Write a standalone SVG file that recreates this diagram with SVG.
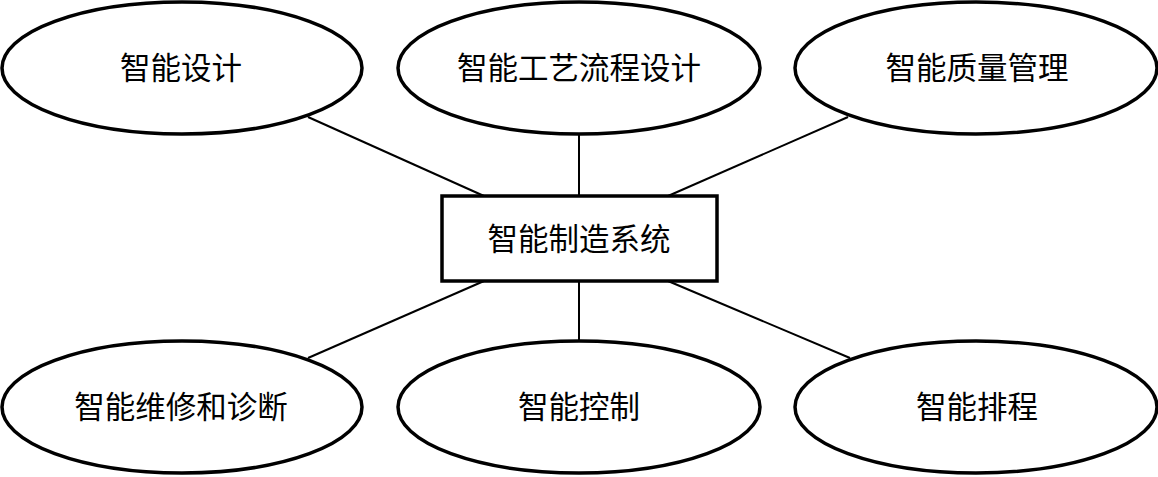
<svg xmlns="http://www.w3.org/2000/svg" width="1158" height="477" viewBox="0 0 1158 477">
<style>
.node{fill:#fff;stroke:#000;stroke-width:3.5}
.box{fill:#fff;stroke:#000;stroke-width:3.5}
.lbl{font-family:"Noto Sans CJK SC","Liberation Serif",serif;font-size:30.5px;fill:#000;text-anchor:middle;dominant-baseline:central}
.conn line{stroke:#000;stroke-width:2}
</style>
<rect width="1158" height="477" fill="#fff"/>
<g id="connectors" class="conn">
<line x1="308" y1="117" x2="484" y2="196"/>
<line x1="579" y1="134" x2="579" y2="196"/>
<line x1="848" y1="117" x2="668" y2="196"/>
<line x1="484" y1="281" x2="308" y2="358"/>
<line x1="579" y1="281" x2="579" y2="341"/>
<line x1="668" y1="281" x2="850" y2="358"/>
</g>
<g id="center">
<rect class="box" x="442" y="196" width="275" height="85"/>
<text class="lbl" x="579" y="237">智能制造系统</text>
</g>
<g id="n1">
<ellipse class="node" cx="182" cy="68" rx="180" ry="66"/>
<text class="lbl" x="181" y="66">智能设计</text>
</g>
<g id="n2">
<ellipse class="node" cx="579" cy="68" rx="181" ry="66"/>
<text class="lbl" x="579" y="66">智能工艺流程设计</text>
</g>
<g id="n3">
<ellipse class="node" cx="976" cy="68" rx="181" ry="66"/>
<text class="lbl" x="977" y="66">智能质量管理</text>
</g>
<g id="n4">
<ellipse class="node" cx="182" cy="407" rx="180" ry="66"/>
<text class="lbl" x="181" y="405">智能维修和诊断</text>
</g>
<g id="n5">
<ellipse class="node" cx="579" cy="407" rx="181" ry="66"/>
<text class="lbl" x="579" y="405">智能控制</text>
</g>
<g id="n6">
<ellipse class="node" cx="976" cy="407" rx="181" ry="66"/>
<text class="lbl" x="977" y="405">智能排程</text>
</g>
</svg>
